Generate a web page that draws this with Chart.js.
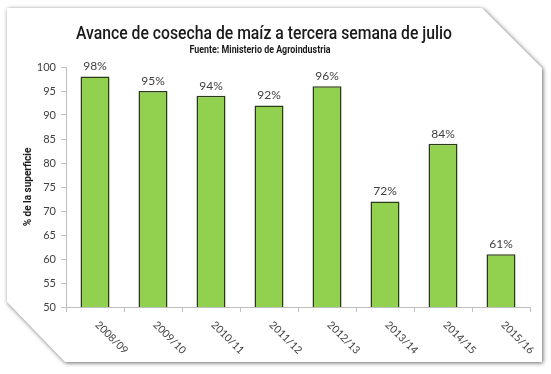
<!DOCTYPE html>
<html lang="es">
  <head>
    <meta charset="UTF-8" />
    <title>Avance de cosecha de maíz</title>
    <script src="https://cdn.jsdelivr.net/npm/chart.js"></script>
    <style>
      html,
      body {
        margin: 0;
        padding: 0;
        background: #fff;
      }
      .wrap {
        position: relative;
        width: 551px;
        height: 374px;
      }
      .shadow {
        position: absolute;
        inset: 0;
        filter: drop-shadow(1px 1px 2px rgba(0, 0, 0, 0.6));
      }
      .card {
        position: absolute;
        inset: 0;
        background: #fff;
        clip-path: polygon(7px 8px, 482px 8px, 542px 68px, 542px 362px, 65px 362px, 7px 302px);
      }
      canvas {
        position: absolute;
        left: 0;
        top: 0;
      }
    </style>
  </head>
  <body>
    <div class="wrap">
      <div class="shadow"><div class="card"></div></div>
      <canvas id="chart" width="551" height="374"></canvas>
    </div>

    <script>
      const seasons = ["2008/09", "2009/10", "2010/11", "2011/12", "2012/13", "2013/14", "2014/15", "2015/16"];
      const progress = [98, 95, 94, 92, 96, 72, 84, 61];
      const titleText = "Avance de cosecha de maíz a tercera semana de julio";
      const sourceText = "Fuente: Ministerio de Agroindustria";

      const narrow = "Roboto, 'DejaVu Sans Condensed', sans-serif";
      const body = "Lato, 'Open Sans', sans-serif";

      // the original uses a condensed face, so squeeze the text to its width
      function squeezed(ctx, text, x, y, font, width) {
        ctx.save();
        ctx.font = font;
        const w = ctx.measureText(text).width;
        const k = Math.min(1, width / w);
        ctx.translate(x, y);
        ctx.scale(k, 1);
        ctx.fillText(text, 0, 0);
        ctx.restore();
      }

      const headings = {
        id: "headings",
        afterDraw(chart) {
          const ctx = chart.ctx;
          ctx.save();
          ctx.fillStyle = "#1a1a1a";
          ctx.textAlign = "center";
          ctx.textBaseline = "alphabetic";
          squeezed(ctx, titleText, 264, 39, "500 19px " + narrow, 376);
          squeezed(ctx, sourceText, 260, 53, "bold 10px " + narrow, 141);
          ctx.restore();
        },
      };

      // percent labels above the bars
      const valueLabels = {
        id: "valueLabels",
        afterDatasetsDraw(chart) {
          const ctx = chart.ctx;
          const meta = chart.getDatasetMeta(0);
          ctx.save();
          ctx.font = "12px " + body;
          ctx.fillStyle = "#404040";
          ctx.textAlign = "center";
          ctx.textBaseline = "bottom";
          meta.data.forEach((bar, i) => {
            ctx.fillText(progress[i] + "%", bar.x, bar.y - 4);
          });
          ctx.restore();
        },
      };

      // x labels slanting down to the right, like the original
      const slantLabels = {
        id: "slantLabels",
        afterDraw(chart) {
          const ctx = chart.ctx;
          const xs = chart.scales.x;
          ctx.save();
          ctx.font = "10.5px " + body;
          ctx.fillStyle = "#404040";
          ctx.textAlign = "left";
          ctx.textBaseline = "middle";
          seasons.forEach((s, i) => {
            const x = xs.getPixelForTick(i);
            ctx.save();
            ctx.translate(x + 2, chart.chartArea.bottom + 16);
            ctx.rotate(Math.PI / 4);
            ctx.fillText(s, 0, 0);
            ctx.restore();
          });
          ctx.restore();
        },
      };

      new Chart(document.getElementById("chart"), {
        type: "bar",
        data: {
          labels: seasons,
          datasets: [
            {
              data: progress,
              backgroundColor: "#92d050",
              borderColor: "#2a3a18",
              borderWidth: 1.5,
              barPercentage: 0.5,
              categoryPercentage: 1,
            },
          ],
        },
        options: {
          responsive: false,
          animation: false,
          layout: { padding: { left: 20, right: 21, top: 67, bottom: 62 } },
          plugins: {
            legend: { display: false },
            tooltip: { enabled: false },
          },
          scales: {
            x: {
              grid: {
                drawOnChartArea: false,
                drawTicks: true,
                tickLength: 5,
                color: "#bfbfbf",
              },
              border: { color: "#bfbfbf" },
              ticks: { display: false },
            },
            y: {
              min: 50,
              max: 100,
              ticks: {
                stepSize: 5,
                color: "#404040",
                font: { family: body, size: 11 },
                padding: 5,
              },
              grid: {
                drawOnChartArea: false,
                tickLength: 5,
                color: "#bfbfbf",
              },
              border: { color: "#bfbfbf" },
              title: {
                display: true,
                text: "% de la superficie",
                color: "#1a1a1a",
                font: { family: narrow, size: 10, weight: "bold" },
                padding: { top: 2, bottom: 6 },
              },
              afterFit(scale) {
                scale.width = 46;
              },
            },
          },
        },
        plugins: [headings, valueLabels, slantLabels],
      });
    </script>
  </body>
</html>
